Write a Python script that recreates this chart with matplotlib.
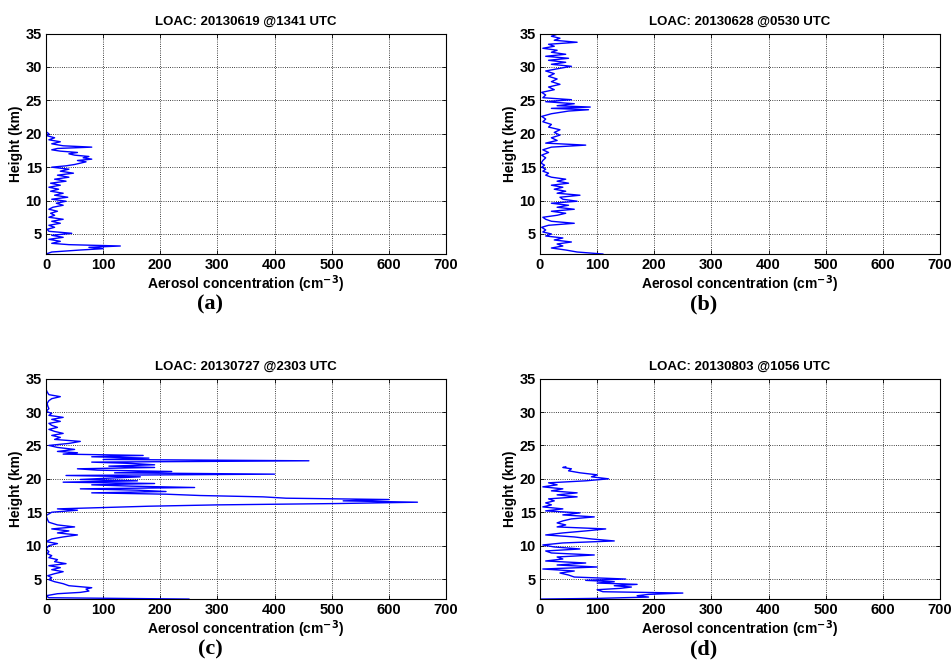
import matplotlib
matplotlib.use("Agg")
import matplotlib.pyplot as plt

plt.rcParams['font.family'] = ['Liberation Sans', 'DejaVu Sans']
plt.rcParams['font.weight'] = 'bold'
plt.rcParams['mathtext.default'] = 'bf'

titles = ["LOAC: 20130619 @1341 UTC", "LOAC: 20130628 @0530 UTC",
          "LOAC: 20130727 @2303 UTC", "LOAC: 20130803 @1056 UTC"]
panel_labels = ["(a)", "(b)", "(c)", "(d)"]
x_ticks = [0, 100, 200, 300, 400, 500, 600, 700]
y_ticks = [5, 10, 15, 20, 25, 30, 35]

# Panel (a)
h_a = [2.0, 2.3, 2.6, 2.8, 3.0, 3.2, 3.4, 3.6, 3.9, 4.2, 4.5, 4.8, 5.1, 5.4, 5.7, 6.0, 6.3, 6.6, 6.9,
       7.2, 7.5, 7.8, 8.1, 8.4, 8.7, 9.0, 9.3, 9.6, 9.9, 10.2, 10.5, 10.8, 11.1, 11.4, 11.7, 12.0,
       12.3, 12.6, 12.9, 13.2, 13.5, 13.8, 14.1, 14.4, 14.7, 15.0, 15.2, 15.4, 15.6, 15.8, 16.0,
       16.2, 16.4, 16.6, 16.8, 17.0, 17.2, 17.4, 17.6, 17.8, 18.0, 18.2, 18.5, 18.8, 19.1, 19.4,
       19.7, 20.0, 20.3, 20.6]
c_a = [0, 10, 60, 100, 75, 130, 40, 10, 25, 5, 30, 10, 45, 5, 2, 15, 5, 25, 10,
       30, 5, 15, 8, 20, 5, 12, 30, 18, 35, 10, 38, 15, 30, 8, 22, 5,
       25, 8, 35, 15, 40, 20, 48, 25, 40, 10, 35, 50, 60, 70, 55,
       80, 65, 75, 50, 40, 55, 25, 10, 20, 80, 30, 10, 25, 5, 15,
       2, 5, 0, 0]

# Panel (b)
h_b = [2.0, 2.3, 2.6, 2.9, 3.2, 3.5, 3.8, 4.1, 4.4, 4.7, 5.0, 5.3, 5.6, 6.0, 6.3, 6.6, 6.9, 7.2,
       7.5, 7.8, 8.1, 8.4, 8.7, 9.0, 9.3, 9.6, 9.9, 10.2, 10.5, 10.8, 11.1, 11.4, 11.7, 12.0,
       12.3, 12.6, 12.9, 13.2, 13.5, 13.8, 14.1, 14.4, 14.7, 15.0, 15.3, 15.6, 16.0, 16.4, 16.8,
       17.2, 17.6, 18.0, 18.3, 18.6, 19.0, 19.4, 19.8, 20.2, 20.6, 21.0, 21.4, 21.8, 22.2, 22.6,
       23.0, 23.4, 23.6, 23.8, 24.0, 24.2, 24.5, 24.8, 25.1, 25.4, 25.8, 26.2, 26.6, 27.0, 27.4,
       27.8, 28.2, 28.6, 29.0, 29.4, 29.8, 30.1, 30.4, 30.7, 31.0, 31.3, 31.6, 31.9, 32.2, 32.5,
       32.8, 33.1, 33.4, 33.7, 34.0, 34.3, 34.6, 34.9, 35.0]
c_b = [110, 65, 45, 20, 40, 30, 55, 25, 40, 10, 20, 5, 10, 3, 15, 60, 20, 10,
       5, 30, 45, 20, 60, 30, 50, 20, 65, 40, 35, 70, 30, 45, 25, 40,
       20, 50, 30, 45, 20, 10, 15, 5, 10, 3, 8, 2, 5, 10, 3,
       15, 5, 20, 80, 10, 30, 20, 35, 25, 35, 15, 20, 5, 10, 3,
       20, 50, 85, 20, 88, 30, 60, 10, 55, 5, 10, 3, 25, 15, 35,
       20, 30, 15, 25, 10, 35, 55, 20, 45, 15, 50, 10, 45, 20, 30,
       5, 25, 15, 65, 25, 35, 20, 30, 20]

# Panel (c)
h_c = [2.0, 2.2, 2.5, 2.8, 3.0, 3.2, 3.5, 3.7, 4.0, 4.3, 4.6, 4.9, 5.2, 5.5, 5.8, 6.1, 6.4, 6.7,
       7.0, 7.3, 7.6, 7.9, 8.2, 8.5, 8.8, 9.1, 9.5, 10.0, 10.3, 10.6, 11.0, 11.3, 11.6, 11.9,
       12.2, 12.5, 12.8, 13.1, 13.5, 14.0, 14.5, 15.0, 15.3, 15.5, 15.7, 15.9, 16.1, 16.3, 16.5,
       16.7, 16.9, 17.1, 17.3, 17.5, 17.7, 17.9, 18.1, 18.3, 18.5, 18.7, 18.9, 19.1, 19.3, 19.5,
       19.7, 19.9, 20.1, 20.3, 20.5, 20.7, 20.9, 21.1, 21.3, 21.5, 21.7, 21.9, 22.1, 22.3, 22.5,
       22.7, 22.9, 23.1, 23.3, 23.5, 23.7, 23.9, 24.1, 24.4, 24.7, 25.0, 25.3, 25.6, 25.9, 26.2,
       26.5, 26.8, 27.1, 27.4, 27.7, 28.0, 28.3, 28.6, 28.9, 29.2, 29.5, 29.8, 30.1, 30.5, 30.9,
       31.3, 31.7, 32.0, 32.3, 32.6, 33.0, 33.4, 33.6]
c_c = [250, 5, 0, 20, 60, 75, 70, 80, 40, 30, 15, 5, 10, 3, 15, 30, 10, 25,
       5, 35, 15, 20, 5, 10, 2, 5, 0, 5, 20, 0, 10, 30, 55, 20,
       40, 10, 50, 20, 5, 2, 0, 10, 55, 20, 100, 180, 300, 510, 650,
       520, 600, 420, 380, 270, 210, 80, 210, 160, 60, 260, 150, 80, 190, 30,
       160, 60, 110, 165, 35, 400, 120, 220, 90, 55, 190, 110, 190, 150, 80,
       460, 100, 180, 80, 170, 30, 55, 20, 50, 20, 5, 40, 60, 15, 25,
       10, 30, 15, 5, 20, 10, 5, 25, 10, 30, 5, 10, 0, 5, 3,
       2, 5, 10, 25, 5, 2, 0, 0]

# Panel (d)
h_d = [2.0, 2.1, 2.3, 2.5, 2.7, 2.9, 3.1, 3.4, 3.6, 3.8, 4.0, 4.2, 4.4, 4.6, 4.8, 5.0, 5.3, 5.6,
       5.9, 6.2, 6.5, 6.8, 7.1, 7.4, 7.7, 8.0, 8.3, 8.6, 8.9, 9.2, 9.5, 9.8, 10.1, 10.4, 10.7,
       11.0, 11.3, 11.6, 11.9, 12.2, 12.5, 12.8, 13.1, 13.4, 13.7, 14.0, 14.3, 14.6, 14.9, 15.2,
       15.5, 15.8, 16.1, 16.4, 16.7, 17.0, 17.3, 17.6, 17.9, 18.2, 18.5, 18.8, 19.1, 19.4, 19.7,
       20.0, 20.3, 20.6, 20.9, 21.2, 21.5, 21.7, 21.8]
c_d = [0, 100, 190, 170, 190, 250, 110, 100, 140, 160, 130, 170, 100, 130, 80, 150, 60, 50,
       35, 60, 5, 100, 30, 80, 10, 40, 30, 95, 20, 10, 70, 25, 5, 40, 130,
       90, 60, 10, 40, 80, 115, 30, 45, 30, 40, 55, 95, 40, 70, 10,
       40, 5, 20, 10, 25, 15, 65, 30, 65, 20, 40, 5, 30, 15, 80,
       120, 90, 100, 70, 50, 55, 40, 45]

heights = [h_a, h_b, h_c, h_d]
concs = [c_a, c_b, c_c, c_d]

fig = plt.figure(figsize=(9.51, 6.66), dpi=100)
lefts = [0.0484, 0.5678, 0.0484, 0.5678]
bottoms = [0.6186, 0.6186, 0.1005, 0.1005]
w, hgt = 0.4206, 0.331

for i in range(4):
    ax = fig.add_axes([lefts[i], bottoms[i], w, hgt])
    ax.plot(concs[i], heights[i], color='#0000ff', lw=1.0)
    ax.set_xlim(0, 700)
    ax.set_ylim(2, 35)
    ax.set_xticks(x_ticks)
    ax.set_yticks(y_ticks)
    ax.tick_params(labelsize=10.5, direction='in', length=3, width=0.6, top=True, right=True, pad=3)
    for lab in ax.get_xticklabels() + ax.get_yticklabels():
        lab.set_fontweight('bold')
    ax.grid(True, color='black', linestyle=':', lw=0.6)
    for sp in ax.spines.values():
        sp.set_linewidth(0.8)
    ax.set_title(titles[i], fontsize=9.5, fontweight='bold', pad=6)
    ax.set_xlabel("Aerosol concentration (cm$^{-3}$)", fontsize=10, fontweight='bold', labelpad=1)
    ax.set_ylabel("Height (km)", fontsize=10, fontweight='bold', labelpad=2)
    ax.text(0.41, -0.185, panel_labels[i], transform=ax.transAxes, ha='center', va='top',
            fontsize=16, fontweight='bold', family='Liberation Serif')

fig.savefig("out.png", dpi=100, facecolor='white')
